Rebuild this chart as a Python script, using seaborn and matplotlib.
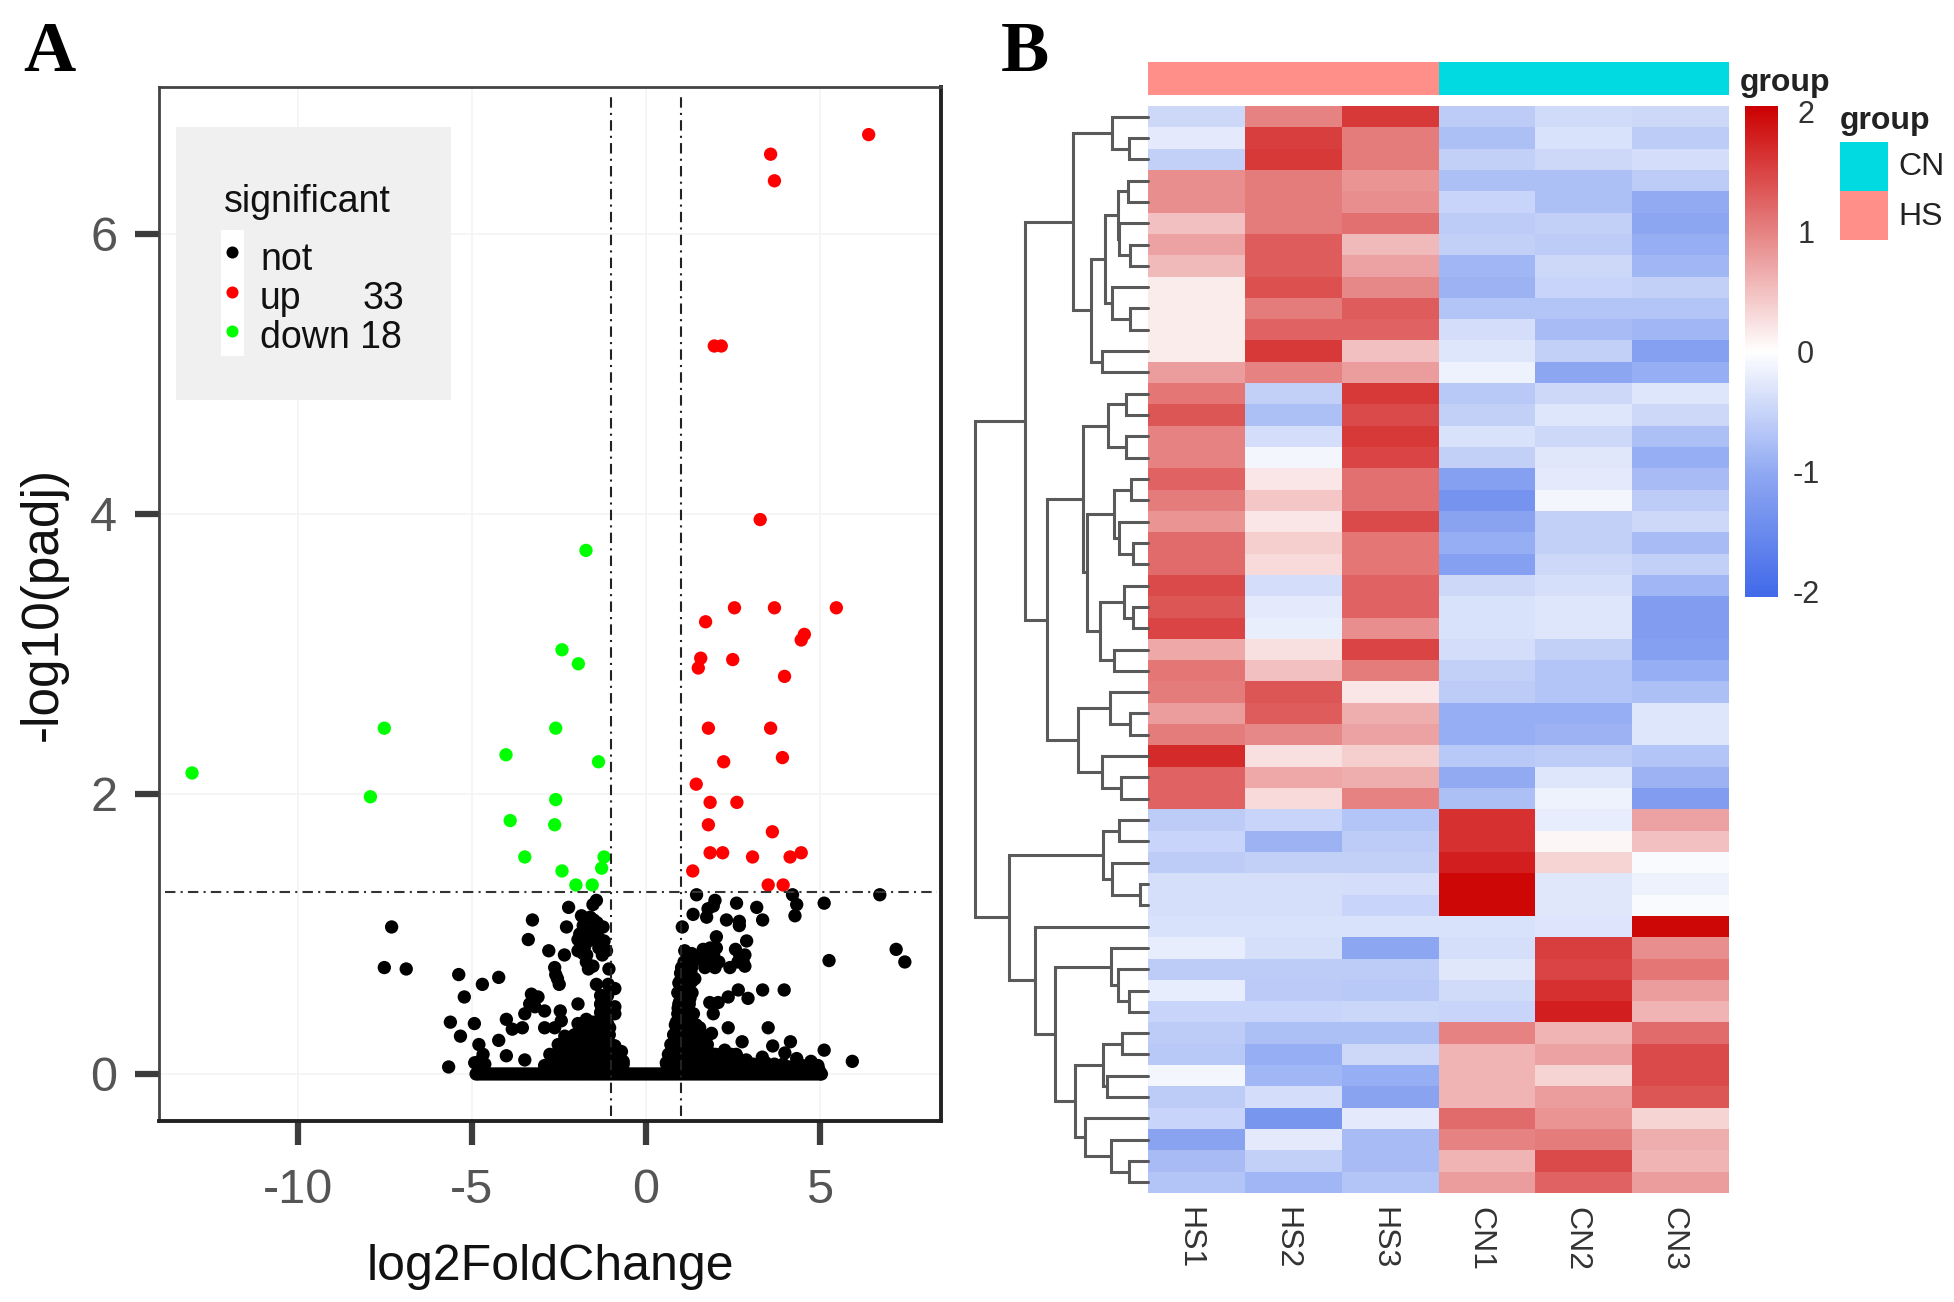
import pandas as pd
import matplotlib
matplotlib.use("Agg")
import matplotlib.pyplot as plt
from matplotlib.colors import LinearSegmentedColormap, ListedColormap
from matplotlib.patches import Rectangle
from matplotlib.transforms import ScaledTranslation
import seaborn as sns

# -----------------------------------------
# Panel A data: volcano plot
# -----------------------------------------
up_x = [6.41, 3.59, 3.70, 1.97, 2.17, 3.29, 2.55, 3.70, 5.48, 1.72, 4.56, 4.47,
        1.58, 1.51, 2.50, 3.99, 1.80, 3.59, 3.93, 2.24, 1.45, 1.85, 2.62, 1.80,
        3.64, 1.85, 2.21, 3.07, 4.15, 4.47, 1.35, 3.52, 3.95]
up_y = [6.71, 6.57, 6.38, 5.20, 5.20, 3.96, 3.33, 3.33, 3.33, 3.23, 3.14, 3.10,
        2.97, 2.90, 2.96, 2.84, 2.47, 2.47, 2.26, 2.23, 2.07, 1.94, 1.94, 1.78,
        1.73, 1.58, 1.58, 1.55, 1.55, 1.58, 1.45, 1.35, 1.35]

down_x = [-1.72, -2.41, -1.94, -7.52, -2.59, -4.02, -1.36, -13.05, -7.92, -2.59,
          -3.90, -2.62, -3.48, -1.20, -1.27, -2.41, -2.01, -1.54]
down_y = [3.74, 3.03, 2.93, 2.47, 2.47, 2.28, 2.23, 2.15, 1.98, 1.96,
          1.81, 1.78, 1.55, 1.55, 1.47, 1.45, 1.35, 1.35]

not_x = [-7.31, -7.52, -6.89, 6.73, 7.20, 7.45,
         -5.38, -4.70, -4.23, -5.22, -5.62, -4.93, -5.33, -5.67, -4.80, -4.23,
         -4.01, -3.48, -4.68, -4.92, -4.78, -4.63, -4.01, -3.84, -3.55, -3.48,
         -3.34, -3.29, -3.10, -3.19, -2.91, -2.91, -2.62, -2.46, -2.43, -2.33,
         -2.76, -2.52,
         -3.26, -3.38, -2.79, -2.34, -2.62, -2.59, -2.54, -2.49, -2.22, -2.28,
         -1.42, -1.52, -1.85, -1.50, -1.80, -1.23, -1.52, -1.95, -1.32, -1.76,
         -1.13, -1.80, -1.52, -1.71, -1.52, -1.06, -1.42, -1.08, -0.89, -1.26,
         -1.28, -0.89, -0.89, -1.95, -1.28, -1.71, -1.04, -1.52, -1.90, -1.42,
         -2.09, -1.76, -2.38, -2.00, -1.61, -1.23, -0.89, -0.70, -0.65, -2.67,
         -2.38, -2.09, -1.80, -1.52, -1.23, -0.95, -2.91, -2.29,
         1.46, 1.05, 1.36, 1.79, 1.99, 1.75, 1.94, 2.61, 2.32, 2.69, 2.69, 3.19,
         3.36, 4.22, 4.34, 4.29, 5.13, 2.03, 2.90, 2.03, 1.65, 2.58, 1.12, 1.32,
         1.84, 2.85, 2.85, 2.42, 1.99, 1.70, 1.03, 1.32, 5.27, 0.98, 1.32, 1.07,
         1.41, 2.66, 3.36, 3.98, 2.37, 2.94, 1.84, 2.08, 1.94, 0.98, 1.27, 0.98,
         1.27, 0.93, 1.12, 2.37, 3.52, 1.89, 2.77, 4.16, 3.65, 4.00, 5.13, 3.35,
         4.34, 5.94, 4.77, 2.27,
         0.88, 1.07, 1.32, 1.55, 0.84, 1.07, 1.36, 1.65, 0.74, 1.07, 1.46, 1.84,
         2.61, 2.89, 3.09, 0.59, 1.02, 1.46, 1.94, 2.42, 3.29, 3.76, 4.14, 4.59,
         4.98]
not_y = [1.05, 0.76, 0.75, 1.28, 0.89, 0.80,
         0.71, 0.64, 0.69, 0.55, 0.37, 0.36, 0.27, 0.05, 0.21, 0.24,
         0.13, 0.10, 0.14, 0.08, 0.09, 0.07, 0.39, 0.32, 0.33, 0.43,
         0.50, 0.57, 0.55, 0.48, 0.45, 0.33, 0.33, 0.45, 0.38, 0.27,
         0.14, 0.21,
         1.10, 0.96, 0.88, 0.85, 0.76, 0.71, 0.68, 0.64, 1.19, 1.05,
         1.24, 1.21, 1.13, 1.10, 1.06, 1.05, 1.02, 0.96, 0.96, 0.91,
         0.88, 0.86, 0.99, 0.80, 0.77, 0.75, 0.64, 0.64, 0.61, 0.56,
         0.49, 0.48, 0.43, 0.50, 0.41, 0.39, 0.33, 0.37, 0.33, 0.30,
         0.27, 0.27, 0.16, 0.20, 0.20, 0.20, 0.20, 0.16, 0.09, 0.09,
         0.09, 0.11, 0.14, 0.14, 0.14, 0.14, 0.06, 0.25,
         1.28, 1.05, 1.14, 1.18, 1.24, 1.12, 1.20, 1.22, 1.10, 1.09, 1.06, 1.19,
         1.10, 1.28, 1.21, 1.13, 1.22, 0.98, 0.95, 0.90, 0.89, 0.89, 0.88, 0.86,
         0.83, 0.85, 0.77, 0.76, 0.76, 0.76, 0.76, 0.76, 0.81, 0.66, 0.66, 0.71,
         0.68, 0.60, 0.60, 0.60, 0.55, 0.54, 0.51, 0.51, 0.43, 0.59, 0.54, 0.52,
         0.44, 0.47, 0.46, 0.33, 0.33, 0.29, 0.23, 0.23, 0.20, 0.15, 0.17, 0.12,
         0.11, 0.09, 0.08, 0.17,
         0.37, 0.37, 0.37, 0.33, 0.27, 0.27, 0.27, 0.27, 0.17, 0.17, 0.17, 0.15,
         0.13, 0.10, 0.07, 0.08, 0.08, 0.08, 0.08, 0.08, 0.05, 0.05, 0.05, 0.05,
         0.03]

# dense parts of the cloud: left mound, upper left clump
left_x = [-2.75, -2.6, -2.45, -2.3, -2.15, -2.0, -1.85, -1.7, -1.55, -1.4, -1.25, -1.1, -0.95, -0.8, -0.65,
          -2.6, -2.45, -2.3, -2.15, -2.0, -1.85, -1.7, -1.55, -1.4, -1.25, -1.1, -0.95, -0.8,
          -2.3, -2.1, -1.95, -1.8, -1.65, -1.5, -1.35, -1.2, -1.05, -0.9,
          -2.05, -1.85, -1.6, -1.45, -1.3, -1.15, -1.05,
          -1.95, -1.8, -1.65, -1.45, -1.3, -1.1,
          -1.3, -1.2, -1.0, -1.3, -1.15, -1.3, -1.1,
          -1.9, -1.75, -1.85, -1.7, -1.65, -1.4, -1.35, -1.2, -1.25, -1.65, -1.4, -1.6, -1.95]
left_y = [0.07, 0.07, 0.07, 0.07, 0.07, 0.07, 0.07, 0.07, 0.07, 0.07, 0.07, 0.07, 0.07, 0.07, 0.07,
          0.14, 0.14, 0.14, 0.14, 0.14, 0.14, 0.14, 0.14, 0.14, 0.14, 0.14, 0.14, 0.14,
          0.20, 0.20, 0.20, 0.20, 0.20, 0.20, 0.20, 0.20, 0.20, 0.20,
          0.28, 0.28, 0.28, 0.28, 0.28, 0.28, 0.28,
          0.36, 0.36, 0.36, 0.36, 0.36, 0.36,
          0.44, 0.44, 0.44, 0.50, 0.50, 0.56, 0.56,
          1.00, 1.00, 0.90, 0.85, 0.95, 1.08, 0.90, 0.95, 0.85, 0.75, 1.00, 1.12, 0.88]

# dense parts of the cloud: right mound and the column above it
right_x = [0.6, 0.75, 0.9, 1.05, 1.2, 1.35, 1.5, 1.65, 1.8, 1.95, 2.1, 2.25, 2.4, 2.55, 2.7, 2.85, 3.0,
           0.65, 0.8, 0.95, 1.1, 1.25, 1.4, 1.55, 1.7, 1.85, 2.0, 2.15, 2.3, 2.45, 2.6,
           0.72, 0.87, 1.02, 1.17, 1.32, 1.47, 1.62, 1.77,
           0.8, 0.95, 1.1, 1.25, 1.4, 1.55,
           0.85, 1.0, 1.15, 1.3, 1.45,
           0.92, 1.07, 1.22, 1.37,
           0.95, 1.1, 1.25,
           0.92, 1.05, 1.2, 1.33,
           0.95, 1.1, 1.25,
           1.0, 1.15, 1.3,
           1.1, 1.25, 1.8, 1.95, 2.65, 2.8,
           1.85, 1.95, 2.1, 1.5, 1.65, 2.7,
           3.2, 3.45, 3.7, 3.95, 4.25, 4.5, 4.75, 4.95]
right_y = [0.07, 0.07, 0.07, 0.07, 0.07, 0.07, 0.07, 0.07, 0.07, 0.07, 0.07, 0.07, 0.07, 0.07, 0.07, 0.07, 0.07,
           0.14, 0.14, 0.14, 0.14, 0.14, 0.14, 0.14, 0.14, 0.14, 0.14, 0.14, 0.14, 0.14, 0.14,
           0.21, 0.21, 0.21, 0.21, 0.21, 0.21, 0.21, 0.21,
           0.28, 0.28, 0.28, 0.28, 0.28, 0.28,
           0.35, 0.35, 0.35, 0.35, 0.35,
           0.43, 0.43, 0.43, 0.43,
           0.50, 0.50, 0.50,
           0.58, 0.58, 0.58, 0.58,
           0.65, 0.65, 0.65,
           0.72, 0.72, 0.72,
           0.80, 0.80, 0.80, 0.80, 0.80, 0.80,
           0.90, 0.85, 0.80, 0.82, 0.82, 0.85,
           0.06, 0.08, 0.07, 0.07, 0.05, 0.06, 0.09, 0.06]

# the thick row of points at padj close to 1
base_x = [-4.88, -4.8, -4.7, -4.6, -4.5, -4.4, -4.3, -4.2, -4.1, -4.0, -3.9, -3.8, -3.7,
          -3.6, -3.5, -3.4, -3.3, -3.2, -3.1, -3.0, -2.9, -2.8, -2.7, -2.6, -2.5, -2.4,
          -2.3, -2.2, -2.1, -2.0, -1.9, -1.8, -1.7, -1.6, -1.5, -1.4, -1.3, -1.2, -1.1,
          -1.0, -0.9, -0.8, -0.7, -0.6, -0.5, -0.4, -0.3, -0.2, -0.1, 0.0, 0.1, 0.2, 0.3,
          0.4, 0.5, 0.6, 0.7, 0.8, 0.9, 1.0, 1.1, 1.2, 1.3, 1.4, 1.5, 1.6, 1.7, 1.8, 1.9,
          2.0, 2.1, 2.2, 2.3, 2.4, 2.5, 2.6, 2.7, 2.8, 2.9, 3.0, 3.1, 3.2, 3.3, 3.4, 3.5,
          3.6, 3.7, 3.8, 3.9, 4.0, 4.1, 4.2, 4.3, 4.4, 4.5, 4.6, 4.7, 4.8, 4.9, 5.0, 5.05]
base_y = [0.0] * len(base_x)

x_ticks = [-10, -5, 0, 5]
y_ticks = [0, 2, 4, 6]

# -----------------------------------------
# Panel B data: heatmap, read row by row
# -----------------------------------------
samples = ["HS1", "HS2", "HS3", "CN1", "CN2", "CN3"]
groups = [1, 1, 1, 0, 0, 0]

HS1 = [-0.45, -0.25, -0.55, 0.9, 0.9, 0.5, 0.75, 0.55, 0.15, 0.15, 0.15, 0.15, 0.8,
       1.1, 1.35, 1.0, 1.0, 1.25, 1.05, 0.85, 1.2, 1.2, 1.45, 1.35, 1.5, 0.7, 1.1,
       1.05, 0.8, 1.05, 1.7, 1.25, 1.25,
       -0.6, -0.5, -0.6, -0.38, -0.38, -0.35, -0.22, -0.6, -0.22, -0.5,
       -0.6, -0.65, -0.1, -0.6, -0.5, -1.1, -0.8, -0.7]
HS2 = [1.0, 1.55, 1.6, 1.05, 1.05, 1.05, 1.3, 1.3, 1.4, 1.05, 1.25, 1.6, 1.0,
       -0.55, -0.75, -0.4, -0.1, 0.2, 0.45, 0.2, 0.4, 0.3, -0.4, -0.25, -0.2, 0.25, 0.5,
       1.35, 1.3, 0.95, 0.25, 0.7, 0.3,
       -0.5, -0.9, -0.55, -0.38, -0.38, -0.35, -0.38, -0.6, -0.62, -0.5,
       -0.75, -0.95, -0.85, -0.4, -1.3, -0.25, -0.55, -0.85]
HS3 = [1.6, 1.05, 1.05, 0.85, 0.9, 1.15, 0.55, 0.75, 0.95, 1.3, 1.25, 0.5, 0.8,
       1.6, 1.45, 1.6, 1.5, 1.15, 1.15, 1.45, 1.1, 1.1, 1.25, 1.25, 0.9, 1.5, 1.05,
       0.2, 0.65, 0.75, 0.4, 0.65, 1.0,
       -0.7, -0.6, -0.55, -0.4, -0.5, -0.35, -1.05, -0.6, -0.65, -0.48,
       -0.75, -0.45, -0.95, -1.1, -0.25, -0.8, -0.8, -0.7]
CN1 = [-0.6, -0.75, -0.55, -0.75, -0.5, -0.6, -0.55, -0.85, -0.9, -0.7, -0.4, -0.3, -0.15,
       -0.65, -0.55, -0.35, -0.55, -1.15, -1.35, -1.1, -0.95, -1.15, -0.45, -0.35, -0.35, -0.4, -0.55,
       -0.6, -0.95, -0.95, -0.65, -1.0, -0.75,
       1.65, 1.65, 1.8, 2.0, 2.0, -0.35, -0.38, -0.28, -0.42, -0.5,
       1.0, 0.6, 0.6, 0.6, 1.2, 1.0, 0.6, 0.8]
CN2 = [-0.42, -0.35, -0.45, -0.75, -0.75, -0.55, -0.6, -0.45, -0.5, -0.7, -0.8, -0.55, -1.05,
       -0.45, -0.3, -0.45, -0.28, -0.25, -0.1, -0.55, -0.55, -0.45, -0.38, -0.3, -0.3, -0.55, -0.7,
       -0.7, -0.95, -0.9, -0.6, -0.3, -0.15,
       -0.22, 0.08, 0.35, -0.28, -0.28, -0.32, 1.55, 1.5, 1.65, 1.8,
       0.6, 0.75, 0.35, 0.8, 0.85, 1.05, 1.45, 1.25]
CN3 = [-0.45, -0.6, -0.4, -0.6, -1.0, -1.05, -0.95, -0.85, -0.55, -0.7, -0.85, -1.15, -0.95,
       -0.3, -0.45, -0.75, -0.95, -0.8, -0.6, -0.45, -0.8, -0.55, -0.85, -1.2, -1.2, -1.15, -0.95,
       -0.75, -0.3, -0.3, -0.7, -0.9, -1.2,
       0.75, 0.5, -0.05, -0.15, -0.05, 2.0, 0.9, 1.1, 0.8, 0.6,
       1.2, 1.45, 1.45, 1.35, 0.35, 0.65, 0.6, 0.8]

# row tree as (height, upper child, lower child), an int is a heatmap row
tree_a = (118, (57, 0, (30, 1, 2)),
          (90, (68, (47, (32, 3, 4), (45, 5, (28, 6, 7))), (57, 8, (28, 9, 10))),
           (72, 11, 12)))
tree_b = (158, (102, (63, (35, 13, 14), (35, 15, 16)),
                (95, (53, (27, 17, 18), (45, 19, (23, 20, 21))),
                 (75, (38, 22, (23, 23, 24)), (53, 25, 26)))),
          (110, (60, 27, (28, 28, 29)), (72, 30, (43, 31, 32))))
tree_c = (218, (70, (45, 33, 34), (57, 35, (13, 36, 37))),
          (177, 38, (145, (58, 39, (47, 40, (30, 41, 42))),
                     (115, (70, (40, 43, 44), (65, 45, 46)),
                      (98, 47, (58, 48, (30, 49, 50)))))))
row_tree = (271, (192, tree_a, tree_b), tree_c)

# -----------------------------------------
# Figure setup
# -----------------------------------------
sns.set_theme(style="white")
plt.rcParams["font.family"] = ["Liberation Sans", "DejaVu Sans"]
plt.rcParams["axes.unicode_minus"] = False

W, H = 1954, 1302
fig = plt.figure(figsize=(W / 100, H / 100), dpi=100)


def px_axes(left, top, right, bottom):
    return fig.add_axes([left / W, 1 - bottom / H, (right - left) / W, (bottom - top) / H])


# -----------------------------------------
# Panel A: volcano
# -----------------------------------------
all_not_x = not_x + left_x + right_x + base_x
all_not_y = not_y + left_y + right_y + base_y
volcano = pd.DataFrame({
    "log2FoldChange": all_not_x + up_x + down_x,
    "padj": all_not_y + up_y + down_y,
    "significant": ["not"] * len(all_not_x) + ["up"] * len(up_x) + ["down"] * len(down_x),
})

ax = px_axes(159, 87, 941, 1121)
ax.grid(True, color="#f4f4f4", linewidth=1.2)
ax.set_axisbelow(True)
sns.scatterplot(data=volcano, x="log2FoldChange", y="padj", hue="significant",
                palette={"not": "black", "up": "#ff0000", "down": "#00ff00"},
                s=92, linewidth=0, legend=False, ax=ax, zorder=3)
ax.axvline(-1, color="#222222", lw=1.5, ls=(0, (5, 2.5, 1, 2.5)), ymin=0.005, ymax=0.995, zorder=4)
ax.axvline(1, color="#222222", lw=1.5, ls=(0, (5, 2.5, 1, 2.5)), ymin=0.005, ymax=0.995, zorder=4)
ax.axhline(1.3, color="#333333", lw=1.5, ls=(0, (5, 2.5, 1, 2.5)), xmin=0.008, xmax=0.995, zorder=4)
ax.set_xlim(-14.0, 8.49)
ax.set_ylim(-0.336, 7.05)
ax.set_xticks(x_ticks)
ax.set_yticks(y_ticks)
ax.tick_params(axis="both", length=17, width=4.5, color="#3c3c3c", labelcolor="#555555",
               labelsize=35, bottom=True, left=True)
ax.tick_params(axis="x", pad=17)
ax.tick_params(axis="y", pad=13)
ax.set_xlabel("log2FoldChange", fontsize=36, color="#111111", labelpad=22)
ax.set_ylabel("-log10(padj)", fontsize=37, color="#111111", labelpad=16)
for side in ["left", "top"]:
    ax.spines[side].set_linewidth(2)
    ax.spines[side].set_color("#444444")
for side in ["right", "bottom"]:
    ax.spines[side].set_linewidth(2.8)
    ax.spines[side].set_color("#222222")

# -----------------------------------------
# Panel B: heatmap, annotation bar, dendrogram
# -----------------------------------------
heat = pd.DataFrame({"HS1": HS1, "HS2": HS2, "HS3": HS3, "CN1": CN1, "CN2": CN2, "CN3": CN3})
cmap = LinearSegmentedColormap.from_list("rb", [(0, "#4169e9"), (0.25, "#8fa8f2"),
                                                (0.5, "#ffffff"), (1, "#cc0000")])

ax_heat = px_axes(1148, 106, 1729, 1193)
ax_cbar = px_axes(1745, 106, 1778, 597)
sns.heatmap(heat, cmap=cmap, vmin=-2.05, vmax=2.05, ax=ax_heat, cbar_ax=ax_cbar,
            yticklabels=False, xticklabels=samples, linewidths=0,
            cbar_kws={"ticks": [-2, -1, 0, 1, 2]})
ax_heat.tick_params(axis="x", length=0, pad=10, labelsize=23, labelcolor="#333333")
plt.setp(ax_heat.get_xticklabels(), rotation=270, ha="center", va="top")
shift_left = ScaledTranslation(-7 / 100, 0, fig.dpi_scale_trans)
for label in ax_heat.get_xticklabels():
    label.set_transform(label.get_transform() + shift_left)
ax_heat.set_xlabel("")
ax_cbar.tick_params(length=0, pad=20, labelsize=22, labelcolor="#333333")
ax_cbar.set_yticklabels(["-2", "-1", "0", "1", "2"])
for label in ax_cbar.get_yticklabels():
    label.set_ha("center")

ax_group = px_axes(1148, 62, 1729, 95)
sns.heatmap(pd.DataFrame([groups], columns=samples), ax=ax_group, cbar=False,
            cmap=ListedColormap(["#00dae0", "#ff8f88"]), vmin=0, vmax=1,
            xticklabels=False, yticklabels=False)
ax_group.set_xlabel("")
ax_group.set_ylabel("")

ax_tree = px_axes(975, 106, 1148, 1193)
ax_tree.set_xlim(271, 0)
ax_tree.set_ylim(len(HS1), 0)
ax_tree.axis("off")


def draw_node(node):
    # returns (height, y) of the node, leaves sit at the middle of their row
    if isinstance(node, int):
        return 0, node + 0.5
    h, first, second = node
    h1, y1 = draw_node(first)
    h2, y2 = draw_node(second)
    ax_tree.plot([h1, h, h, h2], [y1, y1, y2, y2], color="#5a5a5a", lw=2.2,
                 solid_joinstyle="miter", clip_on=False)
    return h, (y1 + y2) / 2


draw_node(row_tree)

# -----------------------------------------
# Text and legends placed in figure pixels
# -----------------------------------------
over = fig.add_axes([0, 0, 1, 1], facecolor="none")
over.set_xlim(0, W)
over.set_ylim(H, 0)
over.axis("off")

over.text(23, 71, "A", family="Liberation Serif", weight="bold", fontsize=52, color="black", va="baseline")
over.text(1001, 71, "B", family="Liberation Serif", weight="bold", fontsize=52, color="black", va="baseline")

# legend of panel A
over.add_patch(Rectangle((176, 127), 275, 273, facecolor="#f0f0f0", edgecolor="none"))
over.add_patch(Rectangle((221, 230), 23, 126, facecolor="white", edgecolor="none"))
over.text(224, 202, "significant", fontsize=27, color="#111111", va="center")
over.scatter([232], [252], s=75, color="black", linewidth=0)
over.scatter([232], [292], s=75, color="#ff0000", linewidth=0)
over.scatter([232], [331], s=75, color="#00ff00", linewidth=0)
over.text(260, 260, "not", fontsize=27, color="#111111", va="center")
over.text(260, 299, "up", fontsize=27, color="#111111", va="center")
over.text(363, 299, "33", fontsize=27, color="#111111", va="center")
over.text(260, 338, "down 18", fontsize=27, color="#111111", va="center")

# legend of panel B
over.text(1740, 83, "group", fontsize=23, weight="bold", color="#222222", va="center")
over.text(1840, 121, "group", fontsize=23, weight="bold", color="#222222", va="center")
over.add_patch(Rectangle((1840, 142), 48, 49, facecolor="#00dae0", edgecolor="none"))
over.add_patch(Rectangle((1840, 191), 48, 49, facecolor="#ff8f88", edgecolor="none"))
over.text(1898, 167, "CN", fontsize=23, color="#222222", va="center")
over.text(1898, 217, "HS", fontsize=23, color="#222222", va="center")

fig.savefig("out.png", dpi=100)
